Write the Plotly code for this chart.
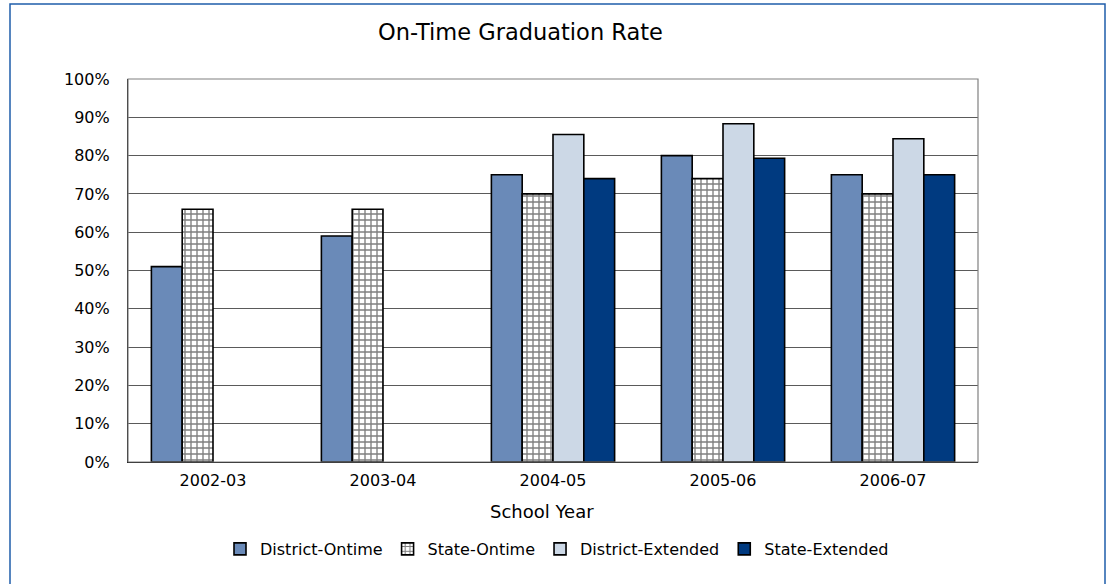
import plotly.graph_objects as go

years = ["2002-03", "2003-04", "2004-05", "2005-06", "2006-07"]
district_ontime = [51, 59, 75, 80, 75]
state_ontime = [66, 66, 70, 74, 70]
district_extended = [None, None, 85.5, 88.3, 84.4]
state_extended = [None, None, 74, 79.3, 75]
y_ticks = [0, 10, 20, 30, 40, 50, 60, 70, 80, 90, 100]
y_tick_text = [f"{v}%" for v in y_ticks]

FONT = "DejaVu Sans"
W, H = 1108, 584
L, R, T, B = 128, 978, 79, 462

def px_x(p):
    return (p - L) / (R - L)

def px_y(p):
    return (B - p) / (B - T)

fig = go.Figure()
line = dict(color="black", width=1.6)
fig.add_bar(name="District-Ontime", x=years, y=district_ontime,
            marker=dict(color="#6A8AB8", line=line))
fig.add_bar(name="State-Ontime", x=years, y=state_ontime,
            marker=dict(color="white", line=line,
                        pattern=dict(shape="+", fgcolor="black", bgcolor="white",
                                     size=6, solidity=0.4)))
fig.add_bar(name="District-Extended", x=years, y=district_extended,
            marker=dict(color="#CCD8E6", line=line))
fig.add_bar(name="State-Extended", x=years, y=state_extended,
            marker=dict(color="#003A80", line=line))

fig.update_layout(
    width=W, height=H,
    margin=dict(l=L, r=W - R, t=T, b=H - B),
    paper_bgcolor="white", plot_bgcolor="white",
    barmode="group", bargap=0.275, bargroupgap=0,
    font=dict(family=FONT, size=16, color="black"),
    showlegend=True,
    legend=dict(orientation="h", x=px_x(557), xanchor="center",
                y=px_y(549), yanchor="middle", font=dict(size=16),
                itemwidth=30, tracegroupgap=0, traceorder="normal"),
    annotations=[
        dict(text="On-Time Graduation Rate", x=px_x(520), y=px_y(32),
             xref="paper", yref="paper", showarrow=False,
             font=dict(size=22.5), xanchor="center", yanchor="middle"),
        dict(text="School Year", x=px_x(542), y=px_y(511),
             xref="paper", yref="paper", showarrow=False,
             font=dict(size=18), xanchor="center", yanchor="middle"),
    ],
    shapes=[
        dict(type="rect", xref="paper", yref="paper",
             x0=px_x(10), x1=px_x(1105), y0=px_y(4), y1=px_y(600),
             line=dict(color="#1F5DAA", width=1.5), layer="below"),
        dict(type="rect", xref="paper", yref="paper",
             x0=0, x1=1, y0=0, y1=1,
             line=dict(color="#808080", width=1.2), layer="above"),
    ],
)
fig.update_yaxes(range=[0, 100], tickvals=y_ticks, ticktext=y_tick_text,
                 showgrid=True, gridcolor="#5a5a5a", gridwidth=1,
                 showline=True, linecolor="black", linewidth=1.2,
                 ticks="", ticklabelstandoff=14, tickfont=dict(size=16),
                 zeroline=False)
fig.update_xaxes(type="category", showline=True, linecolor="black", linewidth=1.2,
                 ticks="", tickfont=dict(size=16), showgrid=False,
                 ticklabelstandoff=4)

fig.write_html("out.html", config={"displayModeBar": False},
               post_script="document.body.style.margin='0';")
